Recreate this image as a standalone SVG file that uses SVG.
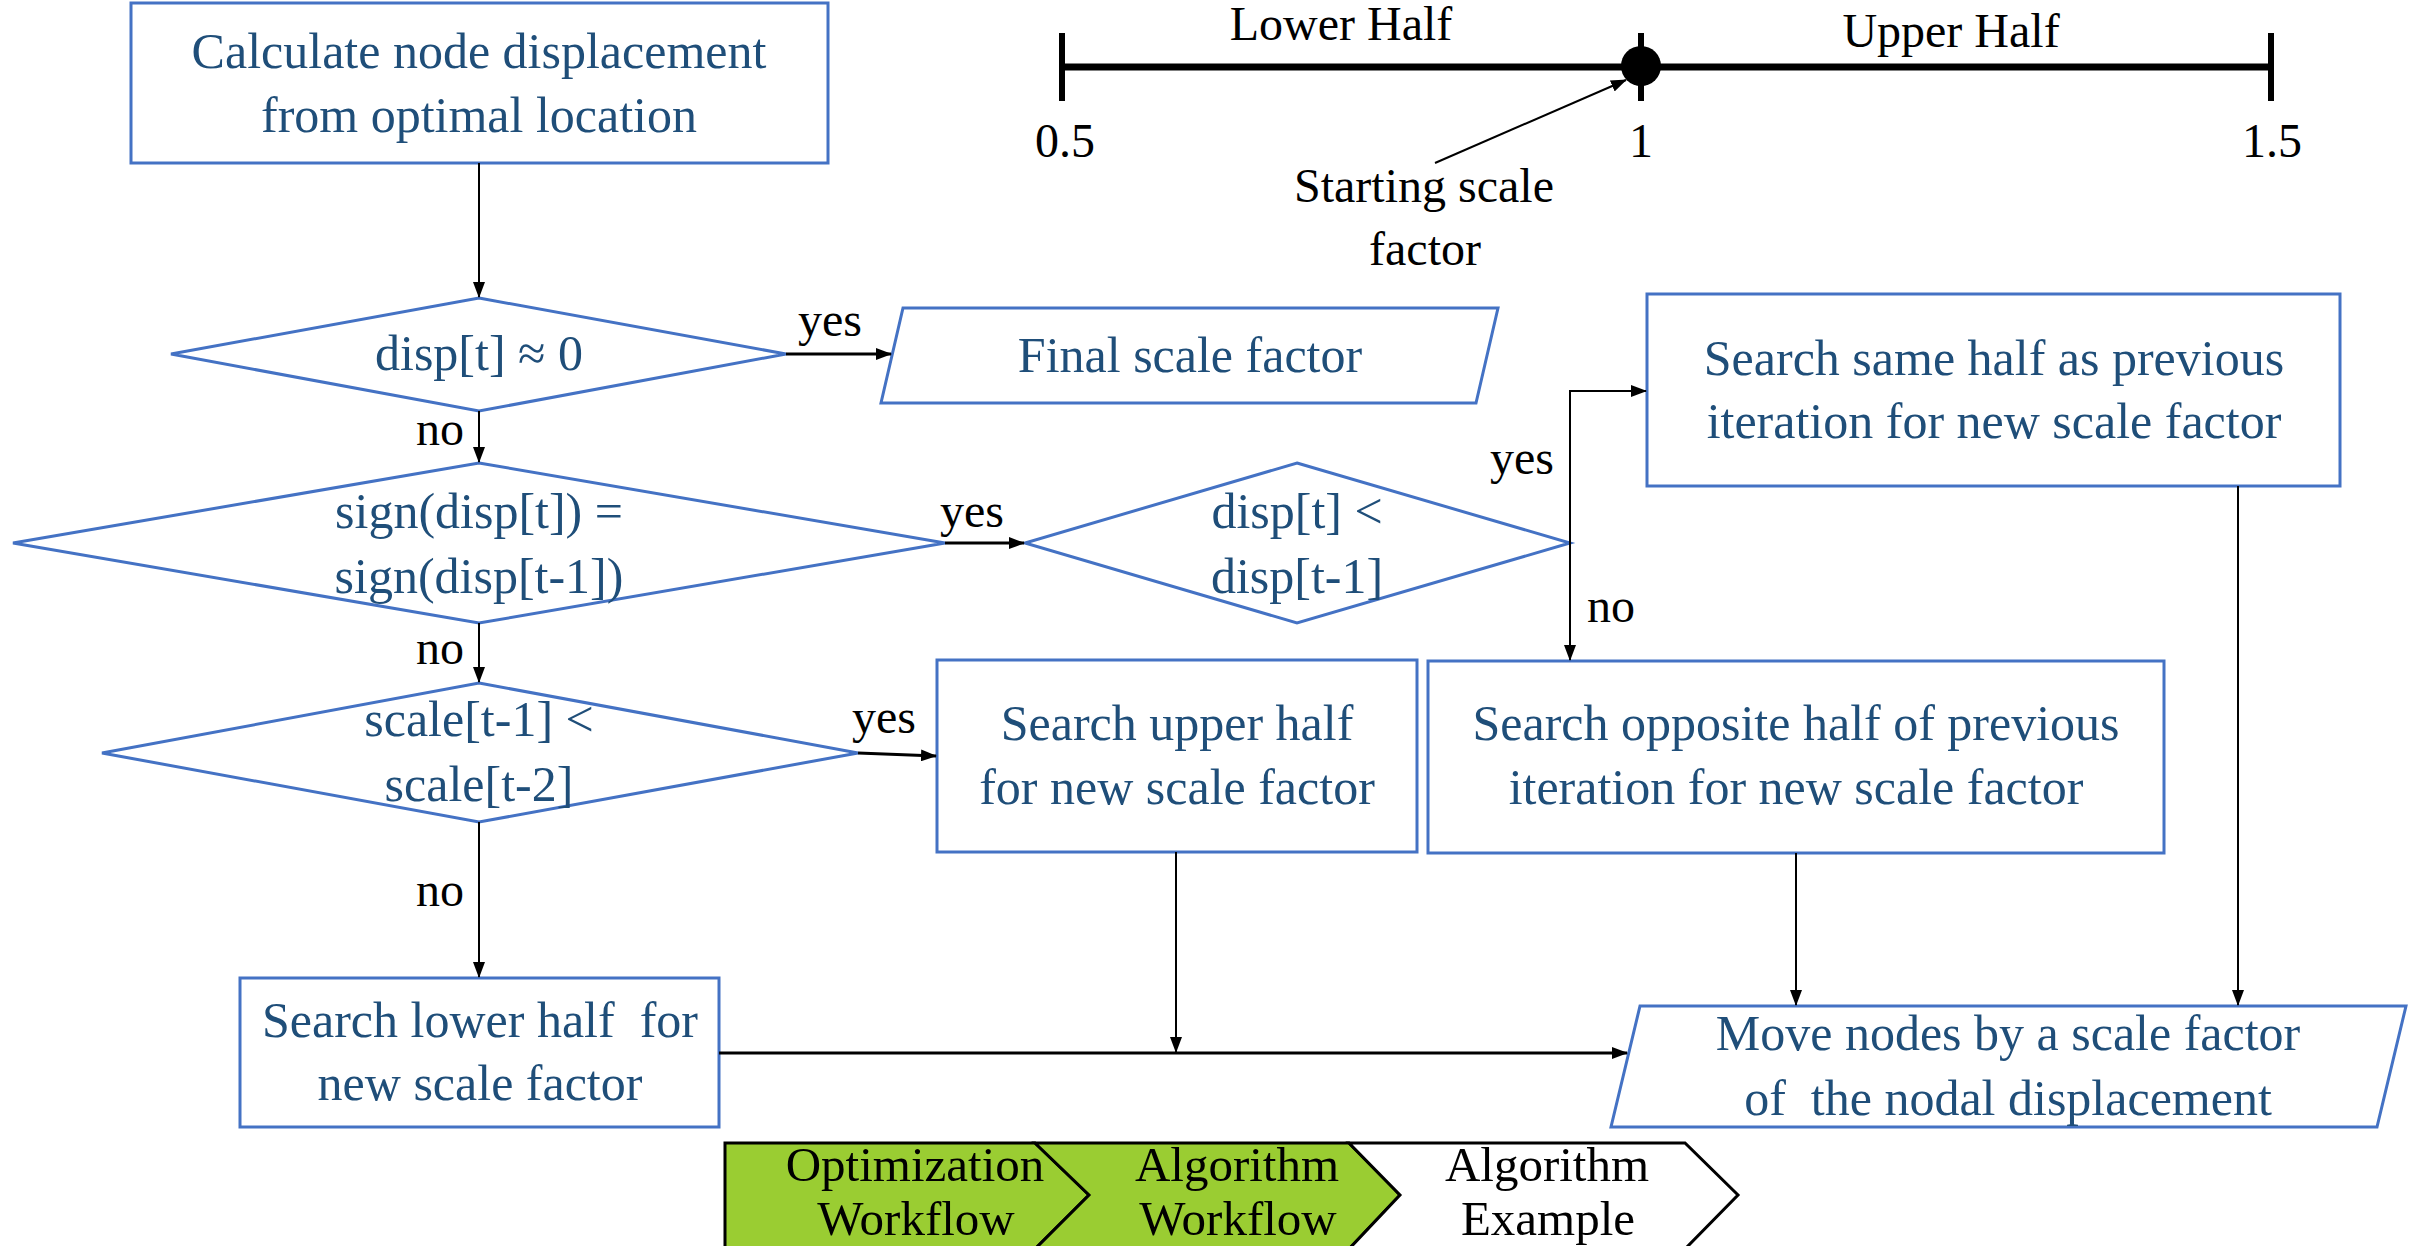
<svg xmlns="http://www.w3.org/2000/svg" width="2418" height="1246" viewBox="0 0 2418 1246">
<defs>
<style>
.nb{fill:#ffffff;stroke:#4472C4;stroke-width:3}
.t{font-family:"Liberation Serif","Times New Roman",serif;font-size:50px;fill:#1F4E79;text-anchor:middle}
.lb{font-family:"Liberation Serif","Times New Roman",serif;font-size:48px;fill:#000000}
.bc{font-family:"Liberation Serif","Times New Roman",serif;font-size:49px;fill:#000000;text-anchor:middle}
.c{fill:none;stroke:#000000;stroke-width:2}
.ck{fill:none;stroke:#000000;stroke-width:3}
.chev{stroke:#000000;stroke-width:3;stroke-linejoin:miter}
.pre{white-space:pre}
</style>
<marker id="ah" markerUnits="userSpaceOnUse" markerWidth="16" markerHeight="12" refX="15" refY="6" orient="auto">
<path d="M0,0 L16,6 L0,12 z" fill="#000000"/>
</marker>
</defs>
<rect width="2418" height="1246" fill="#ffffff"/>

<g id="scale-line">
<line x1="1062" y1="67" x2="2271" y2="67" stroke="#000" stroke-width="7"/>
<line x1="1062" y1="33" x2="1062" y2="101" stroke="#000" stroke-width="6"/>
<line x1="1641" y1="33" x2="1641" y2="101" stroke="#000" stroke-width="6"/>
<line x1="2271" y1="33" x2="2271" y2="101" stroke="#000" stroke-width="6"/>
<circle cx="1641" cy="66" r="20" fill="#000"/>
<text class="lb" x="1341" y="40" text-anchor="middle">Lower Half</text>
<text class="lb" x="1951" y="47" text-anchor="middle">Upper Half</text>
<text class="lb" x="1065" y="157" text-anchor="middle">0.5</text>
<text class="lb" x="1641" y="157" text-anchor="middle">1</text>
<text class="lb" x="2272" y="157" text-anchor="middle">1.5</text>
<line x1="1435" y1="163" x2="1626" y2="80" class="c" marker-end="url(#ah)"/>
<text class="lb" x="1424" y="202" text-anchor="middle">Starting scale</text>
<text class="lb" x="1425" y="265" text-anchor="middle">factor</text>
</g>

<g id="n-calc">
<rect class="nb" x="131" y="3" width="697" height="160"/>
<text class="t" x="479" y="68">Calculate node displacement</text>
<text class="t" x="479" y="132">from optimal location</text>
</g>

<g id="d-zero">
<polygon class="nb" points="479,298 786,354 479,411 171,354"/>
<text class="t" x="479" y="370">disp[t] ≈ 0</text>
</g>

<g id="n-final">
<polygon class="nb" points="903,308 1498,308 1476,403 881,403"/>
<text class="t" x="1190" y="372">Final scale factor</text>
</g>

<g id="d-sign">
<polygon class="nb" points="479,463 945,543 479,623 13,543"/>
<text class="t" x="479" y="528">sign(disp[t]) =</text>
<text class="t" x="479" y="593">sign(disp[t-1])</text>
</g>

<g id="d-disp">
<polygon class="nb" points="1297,463 1570,543 1297,623 1025,543"/>
<text class="t" x="1297" y="528">disp[t] &lt;</text>
<text class="t" x="1297" y="593">disp[t-1]</text>
</g>

<g id="n-same">
<rect class="nb" x="1647" y="294" width="693" height="192"/>
<text class="t" x="1994" y="375">Search same half as previous</text>
<text class="t" x="1994" y="438">iteration for new scale factor</text>
</g>

<g id="d-scale">
<polygon class="nb" points="479,683 858,753 479,822 102,753"/>
<text class="t" x="479" y="736">scale[t-1] &lt;</text>
<text class="t" x="479" y="801">scale[t-2]</text>
</g>

<g id="n-upper">
<rect class="nb" x="937" y="660" width="480" height="192"/>
<text class="t" x="1177" y="740">Search upper half</text>
<text class="t" x="1177" y="804">for new scale factor</text>
</g>

<g id="n-opposite">
<rect class="nb" x="1428" y="661" width="736" height="192"/>
<text class="t" x="1796" y="740">Search opposite half of previous</text>
<text class="t" x="1796" y="804">iteration for new scale factor</text>
</g>

<g id="n-lower">
<rect class="nb" x="240" y="978" width="479" height="149"/>
<text class="t pre" x="480" y="1037">Search lower half  for</text>
<text class="t" x="480" y="1100">new scale factor</text>
</g>

<g id="n-move">
<polygon class="nb" points="1640,1006 2406,1006 2377,1127 1611,1127"/>
<text class="t" x="2008" y="1050">Move nodes by a scale factor</text>
<text class="t pre" x="2008" y="1115">of  the nodal displacement</text>
</g>

<g id="connectors">
<line class="c" x1="479" y1="163" x2="479" y2="297" marker-end="url(#ah)"/>
<line class="ck" x1="786" y1="354" x2="891" y2="354" marker-end="url(#ah)"/>
<line class="c" x1="479" y1="411" x2="479" y2="462" marker-end="url(#ah)"/>
<line class="ck" x1="945" y1="543" x2="1024" y2="543" marker-end="url(#ah)"/>
<path class="c" d="M1570,543 V391 H1646" marker-end="url(#ah)"/>
<line class="c" x1="1570" y1="543" x2="1570" y2="660" marker-end="url(#ah)"/>
<line class="c" x1="479" y1="623" x2="479" y2="682" marker-end="url(#ah)"/>
<line class="ck" x1="858" y1="753" x2="936" y2="756" marker-end="url(#ah)"/>
<line class="c" x1="479" y1="822" x2="479" y2="977" marker-end="url(#ah)"/>
<line class="ck" x1="719" y1="1053" x2="1627" y2="1053" marker-end="url(#ah)"/>
<line class="c" x1="1176" y1="852" x2="1176" y2="1052" marker-end="url(#ah)"/>
<line class="c" x1="1796" y1="853" x2="1796" y2="1005" marker-end="url(#ah)"/>
<line class="c" x1="2238" y1="486" x2="2238" y2="1005" marker-end="url(#ah)"/>
<text class="lb" x="798" y="336">yes</text>
<text class="lb" x="416" y="445">no</text>
<text class="lb" x="940" y="527">yes</text>
<text class="lb" x="1490" y="474">yes</text>
<text class="lb" x="1587" y="622">no</text>
<text class="lb" x="416" y="664">no</text>
<text class="lb" x="852" y="733">yes</text>
<text class="lb" x="416" y="906">no</text>
</g>

<g id="breadcrumb">
<g id="bc-opt">
<polygon class="chev" fill="#9ACD32" points="725,1143 1035,1143 1089,1195 1035,1249 725,1249"/>
<text class="bc" x="915" y="1181">Optimization</text>
<text class="bc" x="916" y="1235">Workflow</text>
</g>
<g id="bc-alg">
<polygon class="chev" fill="#9ACD32" points="1035,1143 1349,1143 1400,1195 1349,1249 1035,1249 1089,1195"/>
<text class="bc" x="1237" y="1181">Algorithm</text>
<text class="bc" x="1238" y="1235">Workflow</text>
</g>
<g id="bc-ex">
<polygon class="chev" fill="#ffffff" points="1349,1143 1685,1143 1738,1195 1685,1249 1349,1249 1400,1195"/>
<text class="bc" x="1547" y="1181">Algorithm</text>
<text class="bc" x="1548" y="1235">Example</text>
</g>
</g>
</svg>
